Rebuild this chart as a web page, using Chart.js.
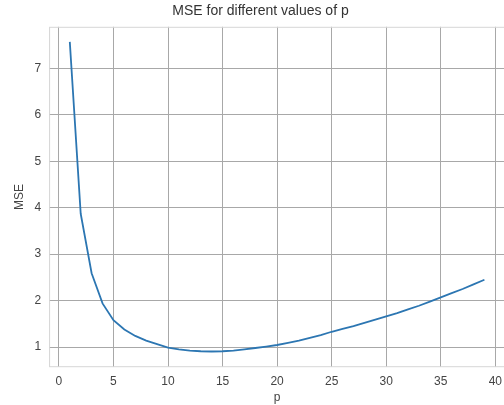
<!DOCTYPE html>
<html>
<head>
<meta charset="utf-8">
<script src="https://cdn.jsdelivr.net/npm/chart.js@4.4.0/dist/chart.umd.min.js"></script>
<style>
  html, body { margin: 0; padding: 0; background: #ffffff; overflow: hidden; }
  #wrap { width: 509px; height: 405px; }
</style>
</head>
<body>
<div id="wrap"><canvas id="mse-chart"></canvas></div>
<script>
// values
const pValues = [1, 2, 3, 4, 5, 6, 7, 8, 9, 10, 11, 12, 13, 14, 15, 16, 17, 18, 19, 20,
  21, 22, 23, 24, 25, 26, 27, 28, 29, 30, 31, 32, 33, 34, 35, 36, 37, 38, 39];
const mseValues = [7.57, 3.87, 2.59, 1.94, 1.58, 1.38, 1.24, 1.14, 1.065, 0.99, 0.95, 0.925, 0.91, 0.905, 0.91, 0.925, 0.95, 0.98, 1.01, 1.045,
  1.09, 1.14, 1.2, 1.26, 1.33, 1.39, 1.45, 1.52, 1.59, 1.66, 1.73, 1.81, 1.89, 1.98, 2.07, 2.16, 2.25, 2.35, 2.45];
const xTicks = [0, 5, 10, 15, 20, 25, 30, 35, 40];
const yTicks = [1, 2, 3, 4, 5, 6, 7];

const FONT = '"Liberation Sans", Arial, sans-serif';
const GRID = '#a8a8a8';
const TEXT = '#444444';

// light frame round the plot area (matplotlib spines)
const frame = {
    id: 'frame',
    afterDraw(chart) {
        const a = chart.chartArea;
        const ctx = chart.ctx;
        ctx.save();
        ctx.strokeStyle = '#d6d6d6';
        ctx.lineWidth = 1;
        ctx.strokeRect(a.left + 0.5, a.top + 0.5, a.right - a.left - 1, a.bottom - a.top - 1);
        ctx.restore();
    },
};

new Chart(document.getElementById('mse-chart'), {
    type: 'line',
    data: {
        datasets: [{
            data: pValues.map((p, i) => ({ x: p, y: mseValues[i] })),
            borderColor: '#2c76b2',
            borderWidth: 1.8,
            pointRadius: 0,
            tension: 0,
            fill: false,
        }],
    },
    options: {
        responsive: true,
        maintainAspectRatio: false,
        animation: false,
        layout: { padding: { left: 12, right: 0, top: 0, bottom: 0 } },
        plugins: {
            legend: { display: false },
            tooltip: { enabled: false },
            title: {
                display: true,
                text: 'MSE for different values of p',
                color: '#333333',
                font: { family: FONT, size: 14, weight: 'normal' },
                padding: { top: 3, bottom: 7 },
            },
        },
        scales: {
            x: {
                type: 'linear',
                min: -0.9,
                max: 40.9,
                afterBuildTicks: s => { s.ticks = xTicks.map(v => ({ value: v })); },
                grid: { color: GRID, lineWidth: 1, drawTicks: false },
                border: { display: false },
                ticks: { color: TEXT, font: { family: FONT, size: 12 }, padding: 7, maxRotation: 0 },
                title: { display: true, text: 'p', color: TEXT, font: { family: FONT, size: 12 }, padding: { top: -5, bottom: 0 } },
            },
            y: {
                type: 'linear',
                min: 0.567,
                max: 7.895,
                afterBuildTicks: s => { s.ticks = yTicks.map(v => ({ value: v })); },
                grid: { color: GRID, lineWidth: 1, drawTicks: false },
                border: { display: false },
                ticks: { color: TEXT, font: { family: FONT, size: 12 }, padding: 8 },
                title: { display: true, text: 'MSE', color: TEXT, font: { family: FONT, size: 12 }, padding: { top: 0, bottom: 0 } },
            },
        },
    },
    plugins: [frame],
});
</script>
</body>
</html>
